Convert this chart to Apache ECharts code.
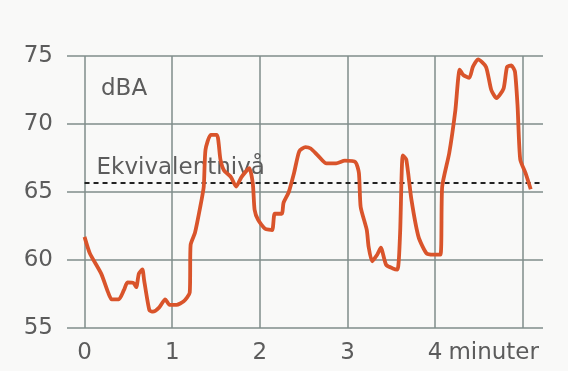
<!DOCTYPE html>
<html>
<head>
<meta charset="utf-8">
<script src="https://cdn.jsdelivr.net/npm/echarts@6/dist/echarts.min.js"></script>
<style>
  html, body { margin: 0; padding: 0; background: #f9f9f8; }
  #chart { width: 568px; height: 371px; }
</style>
</head>
<body>
<div id="chart"></div>
<script>
// Time in minutes
var minutes = [0, 0.06, 0.19, 0.27, 0.31, 0.39, 0.45, 0.49, 0.56, 0.59, 0.62, 0.66, 0.68, 0.74, 0.78, 0.85, 0.92, 0.97, 1.05, 1.13, 1.20, 1.21, 1.26, 1.32, 1.36, 1.38, 1.44, 1.51, 1.55, 1.59, 1.67, 1.73, 1.79, 1.88, 1.92, 1.94, 1.98, 2.06, 2.14, 2.17, 2.25, 2.27, 2.33, 2.39, 2.45, 2.52, 2.58, 2.66, 2.76, 2.87, 2.97, 3.09, 3.13, 3.15, 3.22, 3.24, 3.28, 3.34, 3.38, 3.44, 3.51, 3.57, 3.60, 3.63, 3.67, 3.73, 3.81, 3.90, 3.98, 4.06, 4.08, 4.16, 4.23, 4.28, 4.32, 4.39, 4.43, 4.49, 4.58, 4.64, 4.70, 4.78, 4.82, 4.87, 4.91, 4.94, 4.97, 5.03, 5.09];
// Sound level in dBA
var dBA = [61.7, 60.5, 59.0, 57.6, 57.1, 57.1, 57.8, 58.35, 58.3, 58.0, 59.0, 59.3, 58.5, 56.3, 56.2, 56.5, 57.1, 56.7, 56.7, 56.95, 57.6, 61.1, 62.0, 63.9, 65.4, 68.1, 69.2, 69.2, 67.4, 66.6, 66.1, 65.4, 66.1, 66.75, 65.6, 63.7, 62.95, 62.3, 62.2, 63.4, 63.4, 64.2, 65.0, 66.4, 68.0, 68.3, 68.2, 67.7, 67.1, 67.1, 67.3, 67.2, 66.4, 63.9, 62.2, 61.0, 59.9, 60.4, 60.9, 59.65, 59.4, 59.3, 62.0, 67.7, 67.4, 64.4, 61.7, 60.5, 60.4, 60.4, 65.4, 67.85, 71.0, 74.0, 73.6, 73.4, 74.2, 74.75, 74.2, 72.5, 71.9, 72.6, 74.2, 74.3, 73.85, 71.3, 67.4, 66.4, 65.2];
// Axis ticks
var xTickLabels = [0, 1, 2, 3, 4];
var xGridMinutes = [0, 1, 2, 3, 4, 5];
var yTicks = [55, 60, 65, 70, 75];
// Equivalent level
var ekvivalentniva = 65.7;
var unitLabel = 'dBA';
var levelLabel = 'Ekvivalentnivå';
var xUnit = 'minuter';

var xMin = -0.2, xMax = 5.23;
var gridColor = '#7f8c8b';
var textColor = '#5c5c5c';
var font = 'DejaVu Sans';

var chart = echarts.init(document.getElementById('chart'), null, { renderer: 'canvas' });

var seriesData = minutes.map(function (m, i) { return [m, dBA[i]]; });

chart.setOption({
  backgroundColor: '#f9f9f8',
  animation: false,
  grid: { left: 67, right: 25, top: 56, bottom: 43 },
  xAxis: {
    type: 'value',
    min: xMin,
    max: xMax,
    name: xUnit,
    nameLocation: 'end',
    nameGap: -5,
    nameTextStyle: {
      color: textColor,
      fontFamily: font,
      fontSize: 23,
      align: 'right',
      verticalAlign: 'top',
      padding: [14, 0, 0, 0]
    },
    axisLine: { show: false },
    axisTick: { show: false },
    splitLine: { show: false },
    axisLabel: {
      customValues: xTickLabels,
      margin: 14,
      color: textColor,
      fontFamily: font,
      fontSize: 23
    }
  },
  yAxis: {
    type: 'value',
    min: yTicks[0],
    max: yTicks[yTicks.length - 1],
    interval: 5,
    axisLine: { show: false },
    axisTick: { show: false },
    axisLabel: {
      margin: 14,
      color: textColor,
      fontFamily: font,
      fontSize: 23
    },
    splitLine: { show: true, lineStyle: { color: gridColor, width: 1.5 } }
  },
  graphic: [{
    type: 'text',
    left: 101,
    top: 78,
    style: { text: unitLabel, fill: textColor, font: '23px "DejaVu Sans"' }
  }],
  series: [
    {
      type: 'line',
      data: [],
      silent: true,
      markLine: {
        silent: true,
        symbol: ['none', 'none'],
        label: { show: false },
        lineStyle: { color: gridColor, width: 1.5, type: 'solid' },
        data: xGridMinutes.map(function (m) { return { xAxis: m }; })
      }
    },
    {
      type: 'line',
      data: [],
      silent: true,
      markLine: {
        silent: true,
        symbol: ['none', 'none'],
        lineStyle: { color: '#222', width: 2, type: [5, 4] },
        label: {
          show: true,
          position: 'insideStartTop',
          distance: [12, 3],
          formatter: levelLabel,
          color: textColor,
          fontFamily: font,
          fontSize: 23
        },
        data: [[{ coord: [0, ekvivalentniva] }, { coord: [xMax, ekvivalentniva] }]]
      }
    },
    {
      type: 'line',
      data: seriesData,
      showSymbol: false,
      smooth: 0.2,
      lineStyle: { color: '#d9542b', width: 3.8 },
      itemStyle: { color: '#d9542b' },
      z: 5
    }
  ]
});
</script>
</body>
</html>
